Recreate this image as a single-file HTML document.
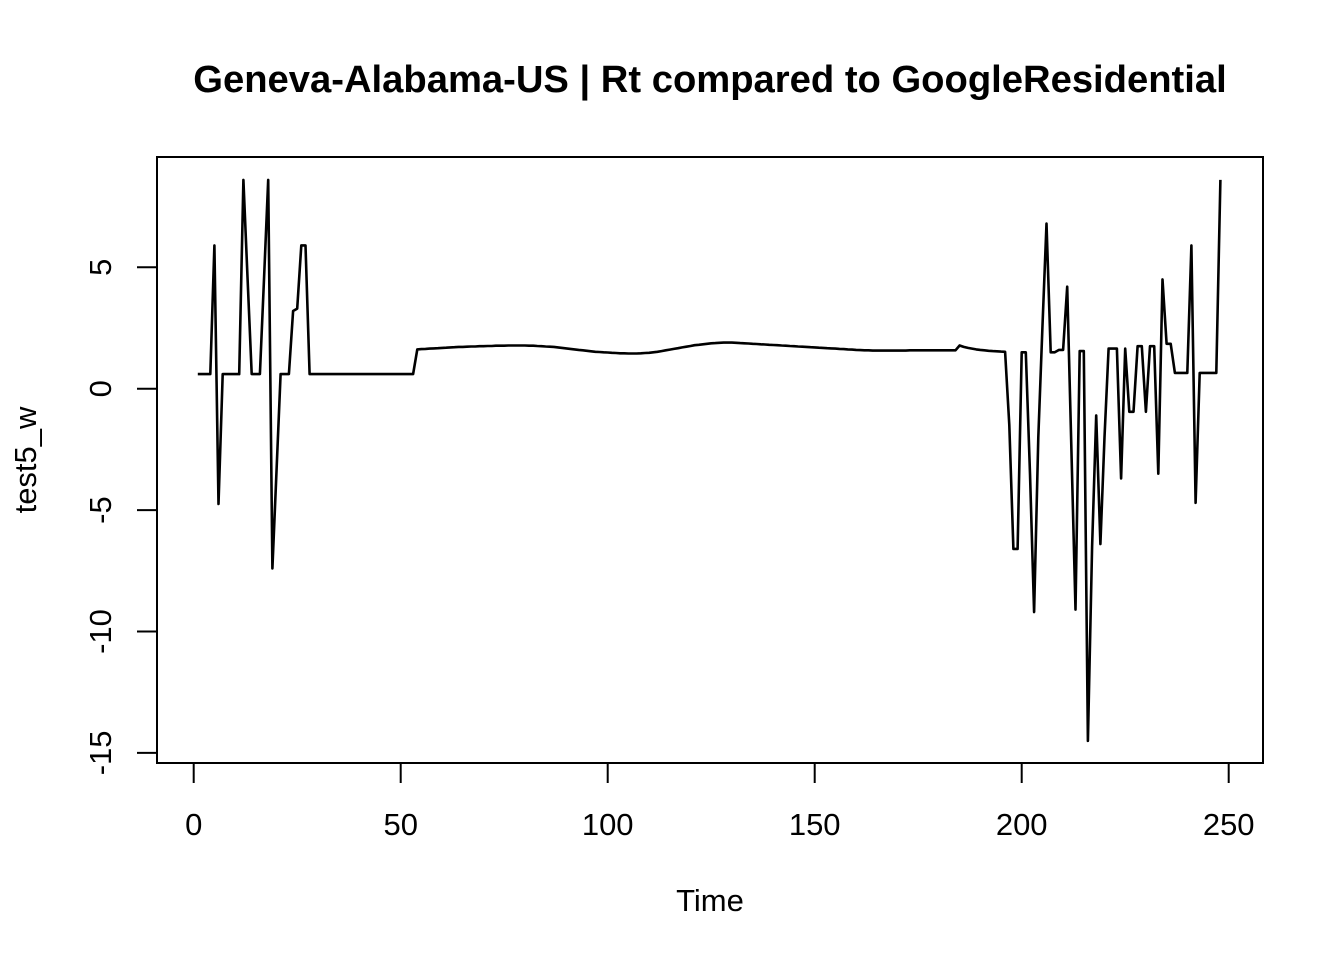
<!DOCTYPE html>
<html><head><meta charset="utf-8"><style>
body{margin:0;background:#fff;}
svg{display:block;font-family:"Liberation Sans",Arial,sans-serif;}
</style></head><body>
<svg id="chart" width="1344" height="960" viewBox="0 0 1344 960">
<rect width="1344" height="960" fill="#fff"/>
<text x="710" y="92" text-anchor="middle" font-size="38.2" font-weight="bold">Geneva-Alabama-US | Rt compared to GoogleResidential</text>
<rect x="157" y="157" width="1106" height="606" fill="none" stroke="#000" stroke-width="2"/>
<g id="xaxis"></g>
<g id="yaxis"></g>
<text x="710" y="911" text-anchor="middle" font-size="31">Time</text>
<text transform="translate(36,460) rotate(-90)" text-anchor="middle" font-size="31">test5_w</text>
<path id="line" fill="none" stroke="#000" stroke-width="2.6" stroke-linejoin="round"/>
</svg>
<script>
const xTicks=[0,50,100,150,200,250];
const yTicks=[-15,-10,-5,0,5];
const leftValues=[0.6,0.6,0.6,0.6,5.9,-4.75,0.6,0.6,0.6,0.6,0.6,8.6,4.6,0.6,0.6,0.6,4.6,8.6,-7.4,-3.4,0.6,0.6,0.6,3.2,3.3,5.9,5.9,0.6,
0.6,0.6,0.6,0.6,0.6,0.6,0.6,0.6,0.6,0.6,0.6,0.6,0.6,0.6,0.6,0.6,0.6,0.6,0.6,0.6,0.6,0.6,0.6,0.6,0.6];
const midValues=[1.62,1.63,1.64,1.65,1.66,1.67,1.68,1.69,1.70,1.71,
1.72,1.72,1.73,1.74,1.74,1.75,1.75,1.76,1.76,1.77,
1.77,1.77,1.78,1.78,1.78,1.78,1.78,1.77,1.77,1.76,
1.75,1.74,1.73,1.72,1.70,1.68,1.66,1.64,1.62,1.60,
1.58,1.56,1.54,1.52,1.51,1.50,1.49,1.48,1.47,1.46,
1.46,1.45,1.45,1.45,1.46,1.47,1.48,1.50,1.52,1.55,
1.58,1.61,1.64,1.67,1.70,1.73,1.76,1.79,1.81,1.83,
1.85,1.87,1.88,1.89,1.90,1.90,1.90,1.89,1.88,1.87,
1.86,1.85,1.84,1.83,1.82,1.81,1.80,1.79,1.78,1.77,
1.76,1.75,1.74,1.73,1.72,1.71,1.70,1.69,1.68,1.67,
1.66,1.65,1.64,1.63,1.62,1.61,1.60,1.59,1.58,1.58,
1.57,1.57,1.57,1.57,1.57,1.57,1.57,1.57,1.57,1.58,
1.58,1.58,1.58,1.58,1.58,1.58,1.58,1.58,1.58,1.58,
1.58,1.78,1.72,1.68,1.65,1.62,1.60,1.58,1.56,1.55,
1.54,1.53,1.52];
const rightValues=[-1.5,-6.6,-6.6,1.5,1.5,-3.5,-9.2,-2,2.5,6.8,1.5,1.5,1.6,1.6,4.2,-2.5,-9.1,1.55,1.55,-14.5,-6.5,-1.1,-6.4,-2,1.65,1.65,1.65,-3.7,1.65,-0.95,-0.95,1.75,1.75,-0.95,1.75,1.75,-3.5,4.5,1.85,1.85,0.65,0.65,0.65,0.65,5.9,-4.7,0.65,0.65,0.65,0.65,0.65,8.6];
const values=leftValues.concat(midValues,rightValues);
const sx=t=>193.7+t*4.14;
const sy=v=>388.7-v*24.28;
const NS="http://www.w3.org/2000/svg";
const xa=document.getElementById('xaxis'),ya=document.getElementById('yaxis');
xTicks.forEach(t=>{
 const l=document.createElementNS(NS,'line');
 
 
 l.setAttribute('x1',sx(t));l.setAttribute('x2',sx(t));l.setAttribute('y1',763);l.setAttribute('y2',783);
 l.setAttribute('stroke','#000');l.setAttribute('stroke-width','2');xa.appendChild(l);
 const tx=document.createElementNS(NS,'text');
 
 
 tx.setAttribute('x',sx(t));tx.setAttribute('y',835);tx.setAttribute('text-anchor','middle');tx.setAttribute('font-size','31');
 tx.textContent=t;xa.appendChild(tx);
});
yTicks.forEach(v=>{
 const l=document.createElementNS(NS,'line');
 
 
 l.setAttribute('x1',137);l.setAttribute('x2',157);l.setAttribute('y1',sy(v));l.setAttribute('y2',sy(v));
 l.setAttribute('stroke','#000');l.setAttribute('stroke-width','2');ya.appendChild(l);
 const tx=document.createElementNS(NS,'text');
 
 
 tx.setAttribute('transform','translate(111,'+sy(v)+') rotate(-90)');tx.setAttribute('text-anchor','middle');tx.setAttribute('font-size','31');
 tx.textContent=v;ya.appendChild(tx);
});
let d='';
values.forEach((v,i)=>{d+=(i?'L':'M')+sx(i+1).toFixed(1)+' '+sy(v).toFixed(1);});
document.getElementById('line').setAttribute('d',d);
</script>
</body></html>
